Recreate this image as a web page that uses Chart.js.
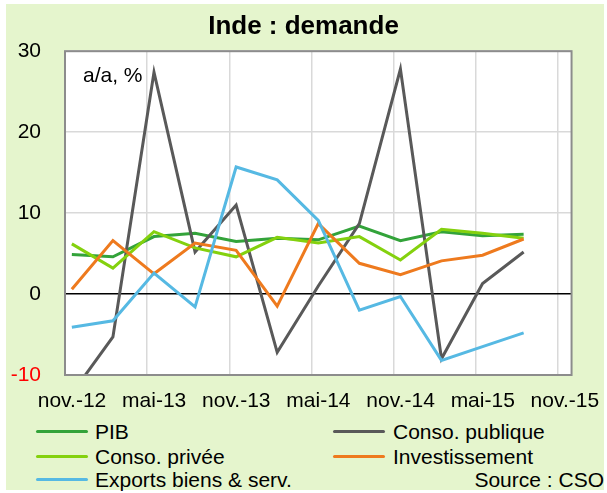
<!DOCTYPE html>
<html>
<head>
<meta charset="utf-8">
<script src="https://cdn.jsdelivr.net/npm/chart.js@4/dist/chart.umd.min.js"></script>
<style>
  body { margin: 0; background: #fff; font-family: "Liberation Sans", Arial, sans-serif; }
  #bg { position: absolute; left: 6px; top: 4px; width: 598px; height: 486px; background: #e5f5cd; }
  #wrap { position: absolute; left: 0; top: 0; width: 607px; height: 415px; }
  .leg { position: absolute; font-size: 21px; color: #000; line-height: 24px; white-space: nowrap; }
  .leg i { position: absolute; width: 52px; height: 3px; top: 10px; border-radius: 2px; }
  .leg span { position: absolute; top: 0; }
</style>
</head>
<body>
<div id="bg"></div>
<div id="wrap"><canvas id="chart"></canvas></div>
<div id="legend"></div>
<div class="leg" style="right:3px; top:468px;">Source : CSO</div>
<script>
// quarterly points, axis runs monthly from nov.-12 to nov.-15
const categories = ['nov.-12', 'févr.-13', 'mai-13', 'août-13', 'nov.-13', 'févr.-14',
                    'mai-14', 'août-14', 'nov.-14', 'févr.-15', 'mai-15', 'août-15'];
const tickLabels = ['nov.-12', 'mai-13', 'nov.-13', 'mai-14', 'nov.-14', 'mai-15', 'nov.-15'];

const pib            = [4.9, 4.6, 7.1, 7.5, 6.5, 6.9, 6.7, 8.4, 6.6, 7.7, 7.2, 7.4];
const consoPublique  = [-12.3, -5.3, 27.4, 5.2, 11.0, -7.2, 1.0, 8.7, 27.8, -8.0, 1.3, 5.2];
const consoPrivee    = [6.2, 3.2, 7.7, 5.7, 4.6, 7.0, 6.3, 7.1, 4.2, 8.0, 7.5, 6.9];
const investissement = [0.6, 6.6, 2.5, 6.3, 5.4, -1.5, 8.7, 3.8, 2.4, 4.1, 4.8, 6.8];
const exportsBiens   = [-4.1, -3.3, 2.6, -1.6, 15.7, 14.1, 9.1, -2.0, -0.3, -8.2, -6.5, -4.8];

const series = [
  { label: 'PIB', data: pib, color: '#33a33a' },
  { label: 'Conso. publique', data: consoPublique, color: '#595959' },
  { label: 'Conso. privée', data: consoPrivee, color: '#84d10e' },
  { label: 'Investissement', data: investissement, color: '#ee7a1e' },
  { label: 'Exports biens & serv.', data: exportsBiens, color: '#56b9e3' }
];

const FONT = '"Liberation Sans", Arial, sans-serif';

// one month = one unit on x, points sit in the middle of their month
const toPoints = (vals) => vals.map((v, i) => ({ x: i * 3 + 0.5, y: v }));

const plotFrame = {
  id: 'plotFrame',
  beforeDraw(chart) {
    const { ctx, chartArea: a } = chart;
    ctx.save();
    ctx.fillStyle = '#fff';
    ctx.fillRect(a.left, a.top, a.right - a.left, a.bottom - a.top);
    ctx.restore();
  },
  afterDatasetsDraw(chart) {
    const { ctx, chartArea: a } = chart;
    ctx.save();
    ctx.strokeStyle = '#8c8c8c';
    ctx.lineWidth = 2;
    ctx.strokeRect(a.left, a.top, a.right - a.left, a.bottom - a.top);
    ctx.fillStyle = '#000';
    ctx.font = '21px ' + FONT;
    ctx.textBaseline = 'middle';
    ctx.fillText('a/a, %', a.left + 18, a.top + 25);
    ctx.restore();
  }
};

const chart = new Chart(document.getElementById('chart'), {
  type: 'line',
  data: {
    datasets: series.map((s, i) => ({
      label: s.label,
      data: toPoints(s.data),
      borderColor: s.color,
      backgroundColor: s.color,
      borderWidth: 3,
      pointRadius: 0,
      tension: 0,
      order: series.length - i
    }))
  },
  options: {
    responsive: true,
    maintainAspectRatio: false,
    animation: false,
    layout: { padding: 0 },
    plugins: {
      legend: { display: false },
      tooltip: { enabled: false },
      title: {
        display: true,
        text: 'Inde : demande',
        color: '#000',
        font: { family: FONT, size: 26, weight: 'bold' },
        padding: { top: 11, bottom: 9 }
      }
    },
    scales: {
      x: {
        type: 'linear',
        min: 0,
        max: 37,
        afterFit: (s) => { s.height = 40; },
        border: { display: false },
        grid: { color: '#d9d9d9', lineWidth: 1.5, drawTicks: false },
        ticks: {
          stepSize: 6,
          includeBounds: false,
          autoSkip: false,
          maxRotation: 0,
          labelOffset: 7,
          padding: 14,
          color: '#000',
          font: { family: FONT, size: 21 },
          callback: (v) => tickLabels[v / 6]
        }
      },
      y: {
        min: -10,
        max: 30,
        afterFit: (s) => { s.width = 65; },
        border: { display: false },
        grid: {
          color: (c) => c.tick && c.tick.value === 0 ? '#000' : '#d9d9d9',
          lineWidth: 1.5,
          drawTicks: false
        },
        ticks: {
          stepSize: 10,
          padding: 24,
          color: (c) => c.tick && c.tick.value < 0 ? '#ff0000' : '#000',
          font: { family: FONT, size: 21 }
        }
      },
      // empty right-hand axis, only keeps room on the right so the title stays centred
      yRight: {
        position: 'right',
        afterFit: (s) => { s.width = 33; },
        border: { display: false },
        grid: { drawOnChartArea: false, drawTicks: false },
        ticks: { display: false }
      }
    }
  },
  plugins: [plotFrame]
});

// legend in two columns, like the original
const legend = document.getElementById('legend');
const cols = [36, 333];
const rows = [420, 445, 468];
series.forEach((s, i) => {
  const d = document.createElement('div');
  d.className = 'leg';
  d.style.left = cols[i % 2] + 'px';
  d.style.top = rows[Math.floor(i / 2)] + 'px';
  d.innerHTML = '<i style="background:' + s.color + '"></i><span style="left:' +
    (i % 2 ? 60 : 59) + 'px">' + s.label + '</span>';
  legend.appendChild(d);
});
</script>
</body>
</html>
